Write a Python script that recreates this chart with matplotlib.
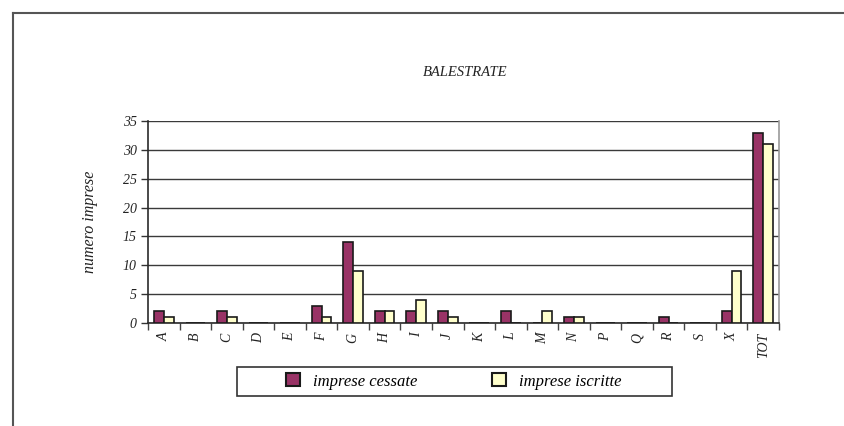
import numpy as np
import matplotlib.pyplot as plt
from matplotlib.lines import Line2D
from matplotlib.patches import Rectangle

# =========================
# DATA
# =========================

categories = ["A", "B", "C", "D", "E", "F", "G", "H", "I", "J",
              "K", "L", "M", "N", "P", "Q", "R", "S", "X", "TOT"]
cessate = [2, 0, 2, 0, 0, 3, 14, 2, 2, 2, 0, 2, 0, 1, 0, 0, 1, 0, 2, 33]
iscritte = [1, 0, 1, 0, 0, 1, 9, 2, 4, 1, 0, 0, 2, 1, 0, 0, 0, 0, 9, 31]
y_ticks = [0, 5, 10, 15, 20, 25, 30, 35]

plt.rcParams['font.family'] = ['Liberation Serif', 'DejaVu Serif']

W, H = 844, 426
fig = plt.figure(figsize=(W / 100, H / 100), dpi=100)

# outer frame (top and left only visible)
fig.add_artist(Line2D([12.5 / W, 1], [1 - 12.5 / H, 1 - 12.5 / H],
                      color="#555555", lw=1.5, transform=fig.transFigure))
fig.add_artist(Line2D([12.5 / W, 12.5 / W], [0, 1 - 12.5 / H],
                      color="#555555", lw=1.5, transform=fig.transFigure))

ax = fig.add_axes([148 / W, 1 - 323 / H, (779 - 148) / W, (323 - 121) / H])

x = np.arange(len(categories))
bw = 0.31

ax.bar(x - bw / 2, cessate, bw, color="#993366", edgecolor="#1a1a1a",
       linewidth=1.2, label="imprese cessate", zorder=3)
ax.bar(x + bw / 2, iscritte, bw, color="#FFFFCC", edgecolor="#1a1a1a",
       linewidth=1.2, label="imprese iscritte", zorder=3)

ax.set_xlim(-0.5, len(categories) - 0.5)
ax.set_ylim(0, 35)

ax.set_yticks(y_ticks)
ax.set_yticklabels([str(v) for v in y_ticks], fontsize=10, style="italic",
                   color="#222222")
ax.yaxis.grid(True, color="#3a3a3a", lw=1.0, zorder=0)
ax.set_axisbelow(True)

# category labels at centres, tick marks at boundaries
ax.set_xticks(x)
ax.set_xticklabels(categories, rotation=90, fontsize=10, style="italic",
                   color="#222222")
ax.tick_params(axis="x", which="major", length=0, pad=7)
ax.set_xticks(np.arange(-0.5, len(categories), 1), minor=True)
ax.tick_params(axis="x", which="minor", length=5, width=1, color="#444444",
               direction="out")
ax.tick_params(axis="y", length=5, width=1, color="#333333", pad=3)

for side in ["left", "bottom"]:
    ax.spines[side].set_color("#2a2a2a")
    ax.spines[side].set_linewidth(1.2)
ax.spines["right"].set_color("#999999")
ax.spines["right"].set_linewidth(1.2)
ax.spines["top"].set_visible(False)

ax.set_ylabel("numero imprese", fontsize=11.5, style="italic", color="#222222",
              labelpad=18)

fig.text(465 / W, 1 - 73 / H, "BALESTRATE", fontsize=10.5, style="italic",
         ha="center", va="center", color="#222222")

# legend box
fig.add_artist(Rectangle((237 / W, 1 - 396 / H), (672 - 237) / W, 29 / H,
                         transform=fig.transFigure, fill=False,
                         edgecolor="#333333", lw=1.2))
leg = fig.legend(loc="center", bbox_to_anchor=(454 / W, 1 - 381.5 / H),
                 ncol=2, frameon=False,
                 prop={"style": "italic", "size": 12},
                 handlelength=0.8, handleheight=0.8, handletextpad=0.8,
                 columnspacing=4.5)
for h in leg.legend_handles:
    h.set_linewidth(1.5)

fig.savefig("out.png", dpi=100)
